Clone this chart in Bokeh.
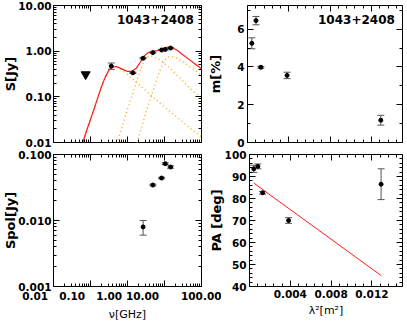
from bokeh.plotting import figure
from bokeh.layouts import row, column
from bokeh.models import (ColumnDataSource, Range1d, FixedTicker, CustomJSTickFormatter,
                          LogAxis, LinearAxis, Whisker, TeeHead, Label, AllLabels)
from bokeh.embed import file_html
from bokeh.resources import INLINE

SOURCE = "1043+2408"

# ---------------- total-intensity spectrum (top-left) ----------------
nu_obs = [0.365, 1.4, 2.64, 4.85, 8.35, 10.45, 14.6]
s_obs = [0.47, 0.335, 0.70, 0.93, 1.06, 1.09, 1.17]
s_lo = [0.40, 0.325, 0.68, 0.91, 1.04, 1.06, 1.13]
s_hi = [0.55, 0.345, 0.72, 0.95, 1.08, 1.12, 1.21]
nu_lim = [0.074]
s_lim = [0.31]

fit_nu = [0.06, 0.08, 0.10, 0.13, 0.16, 0.20, 0.25, 0.30, 0.35, 0.40, 0.50, 0.70, 1.0,
          1.29, 1.72, 2.15, 2.58, 3.0, 3.44, 3.87, 4.3, 5.16, 6.45, 7.5, 8.6, 10.5,
          12.9, 15, 18, 22.5, 30, 45, 70, 100]
fit_s = [0.0092, 0.019, 0.032, 0.060, 0.10, 0.17, 0.27, 0.36, 0.42, 0.45, 0.46, 0.41, 0.36,
         0.36, 0.42, 0.55, 0.70, 0.82, 0.90, 0.95, 0.97, 1.00, 1.03, 1.08, 1.13, 1.20,
         1.23, 1.21, 1.14, 1.03, 0.86, 0.67, 0.51, 0.41]

c1_nu = [0.06, 0.08, 0.10, 0.13, 0.16, 0.20, 0.25, 0.30, 0.35, 0.40, 0.50, 0.70, 1.0, 1.5,
         2.0, 3.0, 5.0, 8.0, 12, 20, 35, 60, 100]
c1_s = [0.0092, 0.019, 0.032, 0.060, 0.10, 0.17, 0.27, 0.36, 0.42, 0.45, 0.45, 0.39, 0.31,
        0.23, 0.19, 0.14, 0.097, 0.070, 0.053, 0.038, 0.026, 0.018, 0.0135]

c2_nu = [0.52, 0.7, 0.86, 1.0, 1.29, 1.72, 2.15, 2.58, 3.0, 3.44, 3.87, 4.3, 5.16, 6.45,
         8.6, 12.9, 21.5, 30, 43, 60, 100]
c2_s = [0.0095, 0.021, 0.036, 0.053, 0.10, 0.206, 0.356, 0.52, 0.65, 0.73, 0.77, 0.78,
        0.76, 0.69, 0.59, 0.45, 0.30, 0.23, 0.17, 0.13, 0.095]

c3_nu = [1.8, 2.0, 3.0, 4.5, 6.0, 7.5, 9.0, 10.5, 12, 13.5, 15, 18, 22.5, 30, 45, 70, 100]
c3_s = [0.0098, 0.013, 0.040, 0.109, 0.224, 0.38, 0.537, 0.652, 0.72, 0.751, 0.76, 0.742,
        0.688, 0.60, 0.477, 0.37, 0.298]

# ---------------- polarized flux (bottom-left) ----------------
spol_nu = [2.64, 4.85, 8.35, 10.45, 14.6]
spol = [0.0080, 0.0345, 0.044, 0.0726, 0.0646]
spol_lo = [0.0060, 0.0335, 0.0428, 0.0705, 0.0620]
spol_hi = [0.0100, 0.0355, 0.0452, 0.0747, 0.0672]

# ---------------- fractional polarization & EVPA vs lambda^2 ----------------
lam2 = [0.00042, 0.00082, 0.00129, 0.00383, 0.0129]
m_pct = [5.25, 6.45, 3.98, 3.55, 1.18]
m_err = [0.29, 0.22, 0.05, 0.17, 0.26]
pa = [93.5, 94.6, 82.6, 70.0, 86.5]
pa_err = [1.6, 1.1, 0.6, 1.3, 7.0]
rm_l2 = [0.00042, 0.0129]
rm_pa = [87.0, 45.0]

log_major = [0.001, 0.01, 0.1, 1, 10, 100]
log_minor = [k * 10.0 ** n for n in range(-3, 2) for k in range(2, 10)]
l2_major = [0.004, 0.008, 0.012]
l2_minor = [0.0008 * i for i in range(0, 19)]

FONT = "DejaVu Sans"
TICK_FS = "10.5px"
ERR_COL = "#555555"


def style_axis(ax, labels=True):
    ax.axis_line_color = None
    ax.major_tick_in = 6
    ax.major_tick_out = 0
    ax.minor_tick_in = 3
    ax.minor_tick_out = 0
    ax.major_tick_line_color = "black"
    ax.minor_tick_line_color = "black"
    ax.major_label_text_font = FONT
    ax.major_label_text_font_style = "bold"
    ax.major_label_text_color = "black"
    ax.major_label_policy = AllLabels()
    if labels:
        ax.major_label_text_font_size = TICK_FS
        ax.major_label_standoff = 3
    else:
        ax.formatter = CustomJSTickFormatter(code="return '';")
        ax.major_label_text_font_size = "1px"
        ax.major_label_standoff = 0


def make_fig(w, h, xr, yr, xlog, ylog, bl, br, bt, bb):
    p = figure(width=w, height=h, x_range=xr, y_range=yr,
               x_axis_type="log" if xlog else "linear",
               y_axis_type="log" if ylog else "linear",
               toolbar_location=None, output_backend="svg",
               min_border_left=bl, min_border_right=br,
               min_border_top=bt, min_border_bottom=bb)
    p.grid.visible = False
    p.outline_line_color = "black"
    p.outline_line_width = 1
    p.outline_line_alpha = 1
    return p


def add_mirrors(p, xt, yt, xlog, ylog):
    xa = (LogAxis if xlog else LinearAxis)(ticker=xt())
    ya = (LogAxis if ylog else LinearAxis)(ticker=yt())
    style_axis(xa, False)
    style_axis(ya, False)
    p.add_layout(xa, "above")
    p.add_layout(ya, "right")


def log_ticker():
    return FixedTicker(ticks=log_major, minor_ticks=log_minor)


def l2_ticker():
    return FixedTicker(ticks=l2_major, minor_ticks=l2_minor)


def m_ticker():
    return FixedTicker(ticks=[0, 2, 4, 6], minor_ticks=[1, 3, 5, 7])


def pa_ticker():
    return FixedTicker(ticks=[40, 50, 60, 70, 80, 90, 100],
                       minor_ticks=list(range(40, 101, 2)))


def fmt(n):
    return CustomJSTickFormatter(code="return tick.toFixed(%d);" % n)


# frequency labels sit just left of their tick (as in the original), except the last
nu_fmt = CustomJSTickFormatter(code="""
const s = tick.toFixed(2);
if (tick >= 99) { return s; }
return s + "\\u00a0".repeat(2 * s.length + 2);
""")


def errbars(p, x, lo, hi):
    src = ColumnDataSource(dict(x=x, lo=lo, hi=hi))
    w = Whisker(base="x", lower="lo", upper="hi", source=src,
                line_color=ERR_COL, line_width=1,
                upper_head=TeeHead(size=7, line_color=ERR_COL, line_width=1),
                lower_head=TeeHead(size=7, line_color=ERR_COL, line_width=1))
    p.add_layout(w)


LBL, LBR = 45, 20    # left figures: left / right border
RBL, RBR = 37, 5     # right figures: left / right border
LFW, RFW = 156, 160  # frame widths
OVER = 16            # overlap of right column onto left column border
LW = LBL + LFW + LBR
RW = RBL + RFW + RBR
TH = 5 + 137 + 6
BH = 6 + 134 + 35

# ---- top-left: spectrum ----
p1 = make_fig(LW, TH, Range1d(0.01, 100), Range1d(0.01, 10), True, True, LBL, LBR, 5, 6)
p1.xaxis.ticker = log_ticker()
p1.yaxis.ticker = log_ticker()
style_axis(p1.xaxis[0], False)
style_axis(p1.yaxis[0], True)
p1.yaxis.formatter = fmt(2)
p1.yaxis.axis_label = "S[Jy]"
add_mirrors(p1, log_ticker, log_ticker, True, True)
for cn, cs in ((c1_nu, c1_s), (c2_nu, c2_s), (c3_nu, c3_s)):
    p1.line(cn, cs, line_color="#ffaa22", line_width=1.5, line_dash="1 3")
p1.line(fit_nu, fit_s, line_color="#ff1a1a", line_width=1.2)
errbars(p1, nu_obs, s_lo, s_hi)
p1.scatter(nu_obs, s_obs, size=4, color="black")
p1.scatter(nu_lim, s_lim, marker="inverted_triangle", size=9, color="black")
p1.add_layout(Label(x=62, y=4.9, text=SOURCE, text_align="right",
                    text_baseline="alphabetic", text_font=FONT,
                    text_font_style="bold", text_font_size="12px", text_color="black"))

# ---- top-right: m[%] ----
p2 = make_fig(RW, TH, Range1d(0, 0.015), Range1d(0, 7.25), False, False, RBL, RBR, 5, 6)
p2.xaxis.ticker = l2_ticker()
p2.yaxis.ticker = m_ticker()
style_axis(p2.xaxis[0], False)
style_axis(p2.yaxis[0], True)
p2.yaxis.axis_label = "m[%]"
add_mirrors(p2, l2_ticker, m_ticker, False, False)
errbars(p2, lam2, [a - b for a, b in zip(m_pct, m_err)], [a + b for a, b in zip(m_pct, m_err)])
p2.scatter(lam2, m_pct, size=4, color="black")
p2.add_layout(Label(x=0.01426, y=6.49, text=SOURCE, text_align="right",
                    text_baseline="alphabetic", text_font=FONT,
                    text_font_style="bold", text_font_size="12px", text_color="black"))
p2.border_fill_color = None
p2.margin = (0, 0, 0, -OVER)

# ---- bottom-left: Spol ----
p3 = make_fig(LW, BH, Range1d(0.01, 100), Range1d(0.001, 0.1), True, True, LBL, LBR, 6, 35)
p3.xaxis.ticker = log_ticker()
p3.yaxis.ticker = log_ticker()
style_axis(p3.xaxis[0], True)
style_axis(p3.yaxis[0], True)
p3.xaxis.formatter = nu_fmt
p3.yaxis.formatter = fmt(3)
p3.xaxis.axis_label = "\u03bd[GHz]"
p3.yaxis.axis_label = "Spol[Jy]"
add_mirrors(p3, log_ticker, log_ticker, True, True)
errbars(p3, spol_nu, spol_lo, spol_hi)
p3.scatter(spol_nu, spol, size=4, color="black")

# ---- bottom-right: PA ----
p4 = make_fig(RW, BH, Range1d(0, 0.015), Range1d(40, 100), False, False, RBL, RBR, 6, 35)
p4.xaxis.ticker = l2_ticker()
p4.yaxis.ticker = pa_ticker()
style_axis(p4.xaxis[0], True)
style_axis(p4.yaxis[0], True)
p4.xaxis.formatter = fmt(3)
p4.xaxis.axis_label = "\u03bb\u00b2[m\u00b2]"
p4.yaxis.axis_label = "PA [deg]"
add_mirrors(p4, l2_ticker, pa_ticker, False, False)
p4.line(rm_l2, rm_pa, line_color="#ff1a1a", line_width=1)
errbars(p4, lam2, [a - b for a, b in zip(pa, pa_err)], [a + b for a, b in zip(pa, pa_err)])
p4.scatter(lam2, pa, size=4, color="black")
p4.border_fill_color = None
p4.margin = (0, 0, 0, -OVER)

# axis-label styling
for p in (p1, p2, p3, p4):
    for ax in p.yaxis:
        ax.axis_label_text_font = FONT
        ax.axis_label_text_font_style = "bold"
        ax.axis_label_text_font_size = "13px"
        ax.axis_label_text_color = "black"
    for ax in p.xaxis:
        ax.axis_label_text_font = FONT
        ax.axis_label_text_font_style = "normal"
        ax.axis_label_text_font_size = "11px"
        ax.axis_label_text_color = "black"
        ax.axis_label_standoff = 3

for p in (p3, p4):
    p.xaxis[0].major_label_standoff = 2

for p in (p1, p3):
    p.yaxis[0].major_label_standoff = 2
    p.yaxis[0].axis_label_standoff = -3
p2.yaxis[0].axis_label_standoff = 11
p4.yaxis[0].axis_label_standoff = -2

layout = column(row(p1, p2), row(p3, p4))
open("out.html", "w").write(file_html(layout, INLINE))
